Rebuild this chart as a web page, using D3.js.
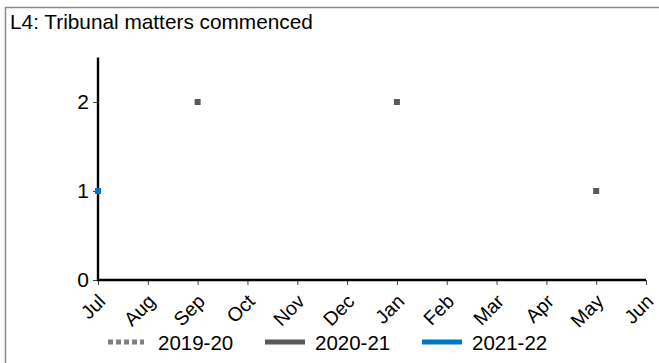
<!DOCTYPE html>
<html><head><meta charset="utf-8">
<script src="https://cdn.jsdelivr.net/npm/d3@7"></script>
<style>body{margin:0;background:#fff}svg{display:block;font-family:"Liberation Sans",Arial,sans-serif}</style>
</head><body><svg id="c" width="659" height="363"></svg>
<script>
const months = ["Jul","Aug","Sep","Oct","Nov","Dec","Jan","Feb","Mar","Apr","May","Jun"];
const series = ["2019-20","2020-21","2021-22"];
const v2019 = [null,null,null,null,null,null,null,null,null,null,null,null];
const v2020 = [null,null,2,null,null,null,2,null,null,null,1,null];
const v2021 = [1,null,null,null,null,null,null,null,null,null,null,null];
const yTicks = [0,1,2];
const colors = ["#7f7f7f","#595959","#0077c0"];
const dashes = ["5,3",null,null];

const svg = d3.select("#c");
// frame (cut at right & bottom)
svg.append("path").attr("d","M5.5,363 V7.5 H659").attr("fill","none").attr("stroke","#8a8a8a").attr("stroke-width",1.5);
svg.append("text").attr("x",10).attr("y",29).attr("font-size",20.8).attr("fill","#000").text("L4: Tribunal matters commenced");

const x = d3.scalePoint().domain(months).range([98,646]);
const y = d3.scaleLinear().domain([0,2.5]).range([280,57.5]);

// ticks
const xa = svg.append("g").attr("transform","translate(0,280)")
  .call(d3.axisBottom(x).tickSize(5).tickFormat(""));
xa.select(".domain").remove();
xa.selectAll(".tick line").attr("stroke","#444");
const ya = svg.append("g").attr("transform","translate(98,0)")
  .call(d3.axisLeft(y).tickValues(yTicks).tickSize(5).tickFormat(d3.format("d")).tickPadding(4));
ya.select(".domain").remove();
ya.selectAll(".tick line").attr("stroke","#444");
ya.selectAll(".tick text").attr("font-size",21).attr("font-family","Liberation Sans, Arial, sans-serif").attr("fill","#000");

// axis lines
svg.append("line").attr("x1",98).attr("x2",98).attr("y1",57.5).attr("y2",281).attr("stroke","#000").attr("stroke-width",2.4);
svg.append("line").attr("x1",97).attr("x2",646).attr("y1",280).attr("y2",280).attr("stroke","#000").attr("stroke-width",2.4);

// x labels rotated
svg.append("g").selectAll("text").data(months).join("text")
  .attr("transform",d=>`translate(${x(d)-1},${293}) rotate(-45)`)
  .attr("text-anchor","end").attr("dy","0.7em").attr("font-size",19.5).attr("fill","#000").text(d=>d);

// data marks
const all = [v2019,v2020,v2021];
all.forEach((vals,i)=>{
  const pts = vals.map((v,j)=>({m:months[j],v})).filter(p=>p.v!==null);
  const line = d3.line().defined(d=>d.v!==null).x(d=>x(d.m)).y(d=>y(d.v));
  const data = vals.map((v,j)=>({m:months[j],v}));
  svg.append("path").datum(data).attr("d",line).attr("fill","none").attr("stroke",colors[i]).attr("stroke-width",3);
  svg.append("g").selectAll("rect").data(pts).join("rect")
    .attr("x",d=>x(d.m)-3).attr("y",d=>y(d.v)-3).attr("width",6).attr("height",6).attr("fill",colors[i]);
});

// legend
const lg = svg.append("g");
const lx = [108,265,422];
series.forEach((s,i)=>{
  lg.append("line").attr("x1",lx[i]).attr("x2",lx[i]+36+(i>0?4:0)).attr("y1",342).attr("y2",342)
    .attr("stroke",colors[i]).attr("stroke-width",5).attr("stroke-dasharray",dashes[i]);
  lg.append("text").attr("x",lx[i]+50).attr("y",350).attr("font-size",20.5).attr("fill","#000").text(s);
});
</script></body></html>
